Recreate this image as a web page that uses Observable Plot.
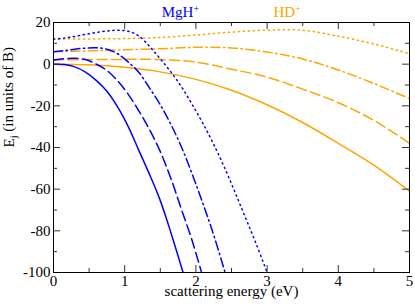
<!DOCTYPE html>
<html><head><meta charset="utf-8">
<script src="https://cdn.jsdelivr.net/npm/d3@7"></script>
<script src="https://cdn.jsdelivr.net/npm/@observablehq/plot@0.6"></script>
<style>body{margin:0;background:#fff}</style>
</head><body><div id="chart"></div>
<script>
// MgH+ curves (j = 0,1,2,3)
const mgX0 = [0,0.15,0.3,0.45,0.6,0.75,0.9,1.05,1.2,1.35,1.5,1.65,1.82];
const mgY0 = [0,-0.2,-1.3,-3.8,-7.8,-13,-20.5,-30,-41.5,-53,-65.5,-81,-100];
const mgX1 = [0,0.15,0.3,0.45,0.6,0.75,0.9,1.05,1.2,1.35,1.5,1.65,1.8,1.95,2.08];
const mgY1 = [2,2.6,2.8,2.2,0,-3,-8,-14.5,-22.5,-31.5,-42,-55,-70,-85,-100];
const mgX2 = [0,0.15,0.3,0.45,0.6,0.75,0.9,1.05,1.2,1.35,1.5,1.65,1.8,1.95,2.1,2.25,2.41];
const mgY2 = [6,6.5,7.2,7.7,7.85,7.2,5,1,-4,-11.5,-19.5,-29,-40,-53,-67,-82,-100];
const mgX3 = [0,0.15,0.3,0.45,0.6,0.75,0.9,1.05,1.2,1.35,1.5,1.65,1.8,1.95,2.1,2.25,2.4,2.55,2.7,2.85,3.0];
const mgY3 = [12,12.5,13.3,14.3,15.2,15.9,16.3,15.8,13.5,8.5,2.5,-3.8,-11,-19.5,-28.5,-38.5,-49.5,-61.5,-74,-86.5,-100];
// HD+ curves (j = 0,1,2,3)
const hdX  = [0,0.5,1,1.5,2,2.5,3,3.5,4,4.5,5];
const hdY0 = [0,-0.3,-1.5,-3.7,-7.3,-12.5,-19.5,-28,-38,-48.5,-61];
const hdY1 = [2,2.2,2.3,2.2,1.0,-2.4,-6.2,-12,-18.5,-27,-38];
const hdY2 = [6,6.4,6.9,7.4,8.1,7.8,5.8,2.5,-2.8,-9.3,-16.5];
const hdY3 = [12,12.1,12.3,12.8,14,15.4,16.3,16.3,13.4,9.7,5];

const xMajor = [0,1,2,3,4,5];
const xMinor = [0.5,1.5,2.5,3.5,4.5];
const yMajor = [-100,-80,-60,-40,-20,0,20];
const yMinor = [-90,-70,-50,-30,-10,10];

const molecules = ["MgH+", "HD+"];
const moleculeLabelX = [1.52, 3.09];
const xTitle = "scattering energy (eV)";
const yTitle = "E_j (in units of B)";

// styles
const blue = "#0000ff", orange = "#ffa500";
const dashes = [null, "10,4.5", "9,3.5,1.5,3.5", "1.3,3.7"];

const zip = (xs, ys) => xs.map((x, i) => ({x, y: ys[i]}));
const mgCurves = [zip(mgX0,mgY0), zip(mgX1,mgY1), zip(mgX2,mgY2), zip(mgX3,mgY3)];
const hdCurves = [hdY0,hdY1,hdY2,hdY3].map(ys => zip(hdX, ys));

const W = 415, H = 305, mL = 53, mR = 6, mT = 22, mB = 33;
const iw = W - mL - mR, ih = H - mT - mB;
const tickCol = "#333";
const FONT = "Liberation Serif";

const lineMarks = [];
hdCurves.forEach((d, j) => lineMarks.push(Plot.line(d, {x: "x", y: "y", stroke: orange, strokeWidth: 1.5, strokeDasharray: dashes[j], curve: "catmull-rom", clip: true})));
mgCurves.forEach((d, j) => lineMarks.push(Plot.line(d, {x: "x", y: "y", stroke: blue, strokeWidth: 1.5, strokeDasharray: dashes[j], curve: "catmull-rom", clip: true})));

const chart = Plot.plot({
  width: W, height: H,
  marginLeft: mL, marginRight: mR, marginTop: mT, marginBottom: mB,
  style: {fontFamily: FONT, fontSize: "15px", background: "#fff", color: "#000"},
  x: {domain: [0, 5]},
  y: {domain: [-100, 20]},
  marks: [
    ...lineMarks,
    Plot.ruleX(xMajor, {x: d => d, insetTop: ih - 7, stroke: tickCol}),
    Plot.ruleX(xMajor, {x: d => d, insetBottom: ih - 7, stroke: tickCol}),
    Plot.ruleX(xMinor, {x: d => d, insetTop: ih - 4, stroke: tickCol}),
    Plot.ruleX(xMinor, {x: d => d, insetBottom: ih - 4, stroke: tickCol}),
    Plot.ruleY(yMajor, {y: d => d, insetRight: iw - 7, stroke: tickCol}),
    Plot.ruleY(yMajor, {y: d => d, insetLeft: iw - 7, stroke: tickCol}),
    Plot.ruleY(yMinor, {y: d => d, insetRight: iw - 4, stroke: tickCol}),
    Plot.ruleY(yMinor, {y: d => d, insetLeft: iw - 4, stroke: tickCol}),
    Plot.frame({stroke: "#000"}),
    Plot.axisX(xMajor, {tickSize: 0, tickPadding: 3, fontSize: 15, fontFamily: FONT, label: null, tickFormat: d => String(d)}),
    Plot.axisY(yMajor, {tickSize: 0, tickPadding: 3, fontSize: 15, fontFamily: FONT, label: null, tickFormat: d => String(d)}),
    Plot.text([xTitle], {text: d => d, frameAnchor: "bottom", dy: 23, fontSize: 15, fontFamily: FONT}),
    Plot.text([yTitle], {text: d => d, frameAnchor: "left", rotate: -90, dx: -44, fontSize: 15, fontFamily: FONT}),
    Plot.text(molecules, {x: (d, i) => moleculeLabelX[i], text: d => d, frameAnchor: "top", lineAnchor: "bottom", textAnchor: "start", dy: -6, fontSize: 15, fontFamily: FONT, fill: (d, i) => i === 0 ? blue : orange})
  ]
});
document.getElementById("chart").append(chart);

// superscripts / subscripts as real text
d3.select(chart).selectAll("text").each(function () {
  const t = this.textContent;
  const s = d3.select(this);
  if (t === "MgH+" || t === "HD+") {
    s.text(t.slice(0, -1));
    s.append("tspan").attr("dy", "-0.45em").attr("font-size", "0.65em").text("+");
  } else if (t === yTitle) {
    s.text("E");
    s.append("tspan").attr("dy", "0.3em").attr("font-size", "0.7em").text("j");
    s.append("tspan").attr("dy", "-0.3em").text(" (in units of B)");
  }
});
</script>
</body></html>
